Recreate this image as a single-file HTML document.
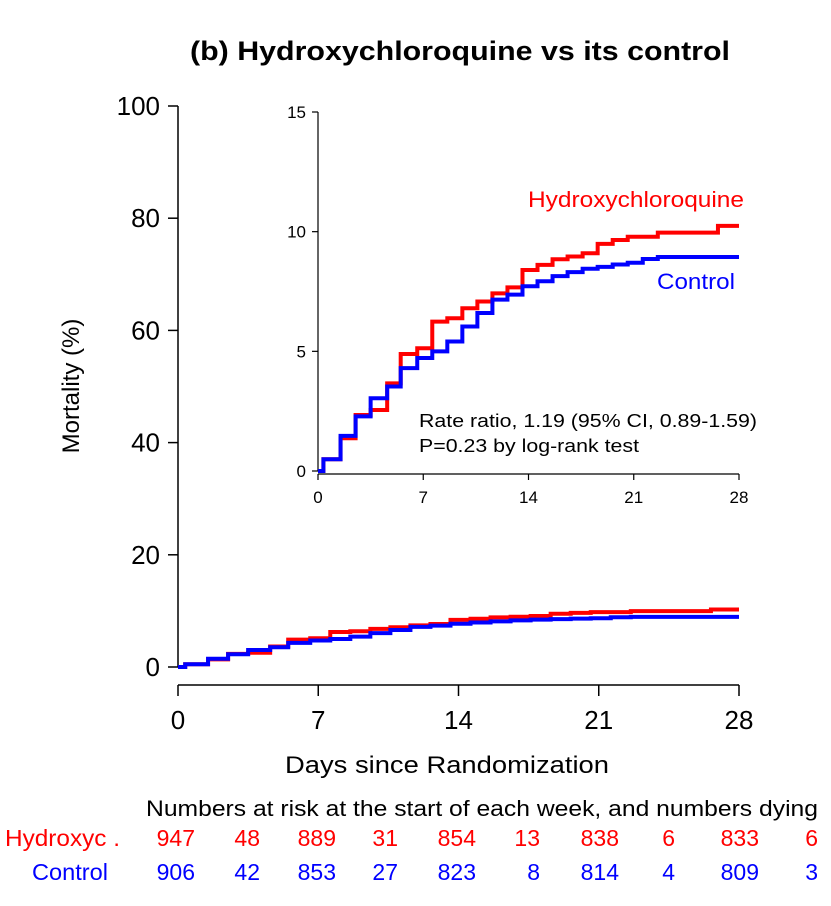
<!DOCTYPE html>
<html><head><meta charset="utf-8"><style>
body{margin:0;background:#fff}
svg{display:block;font-family:"Liberation Sans",Arial,sans-serif}
</style></head><body>
<svg id="chart" width="831" height="906" viewBox="0 0 831 906" xmlns="http://www.w3.org/2000/svg">
<text x="460" y="60" text-anchor="middle" font-size="27" font-weight="bold" textLength="540" lengthAdjust="spacingAndGlyphs">(b) Hydroxychloroquine vs its control</text>
<g id="main"></g>
<g id="inset"></g>
<g id="table"></g>
</svg>
<script>
const hcqTimes = [0,0.36,1.5,2.5,3.5,4.6,5.5,6.6,7.6,8.6,9.6,10.6,11.6,12.6,13.6,14.6,15.6,16.6,17.6,18.6,19.6,20.6,22.6,26.6,28];
const hcqValues = [0,0.49,1.37,2.34,2.55,3.66,4.89,5.13,6.24,6.38,6.80,7.08,7.42,7.67,8.40,8.61,8.85,8.96,9.10,9.49,9.65,9.79,9.96,10.24,10.24];
const ctlTimes = [0,0.36,1.5,2.5,3.5,4.6,5.5,6.6,7.6,8.6,9.6,10.6,11.6,12.6,13.6,14.6,15.6,16.6,17.6,18.6,19.6,20.6,21.6,22.6,28];
const ctlValues = [0,0.49,1.47,2.28,3.04,3.53,4.30,4.72,5.00,5.41,6.04,6.60,7.16,7.37,7.72,7.93,8.14,8.31,8.45,8.53,8.63,8.70,8.86,8.94,8.94];
const xTicks = [0,7,14,21,28];
const mainYTicks = [0,20,40,60,80,100];
const insetYTicks = [0,5,10,15];
const hcqRisk = ["947","48","889","31","854","13","838","6","833","6"];
const ctlRisk = ["906","42","853","27","823","8","814","4","809","3"];

const NS="http://www.w3.org/2000/svg";
function mk(tag,attrs,parent){const e=document.createElementNS(NS,tag);for(const k in attrs)e.setAttribute(k,attrs[k]);parent.appendChild(e);return e;}
function stepPath(ts,vs,xf,yf){let d="M"+xf(ts[0])+","+yf(vs[0]);for(let i=1;i<ts.length;i++){d+=" H"+xf(ts[i])+" V"+yf(vs[i]);}return d;}

// main
const main=document.getElementById('main');
const mx=d=>178+d*(739-178)/28, my=v=>667-v*(667-106)/100;
let e=mk('line',{x1:178,y1:my(0),x2:178,y2:my(100),stroke:'#000','stroke-width':1.5},main);

mainYTicks.forEach(t=>{mk('line',{x1:168,x2:178,y1:my(t),y2:my(t),stroke:'#000','stroke-width':1.5},main);
 const tx=mk('text',{x:160,y:my(t)+9,'text-anchor':'end','font-size':26},main);tx.textContent=t;
 });
e=mk('line',{x1:mx(0),x2:mx(28),y1:685,y2:685,stroke:'#000','stroke-width':1.5},main);

xTicks.forEach(t=>{mk('line',{x1:mx(t),x2:mx(t),y1:685,y2:696,stroke:'#000','stroke-width':1.5},main);
 const tx=mk('text',{x:mx(t),y:729,'text-anchor':'middle','font-size':26},main);tx.textContent=t;
 });
e=mk('text',{x:447,y:773,'text-anchor':'middle','font-size':24,textLength:324,lengthAdjust:'spacingAndGlyphs'},main);e.textContent='Days since Randomization';

e=mk('text',{x:0,y:0,'text-anchor':'middle','font-size':24,transform:'translate(79,386) rotate(-90)'},main);e.textContent='Mortality (%)';

e=mk('path',{d:stepPath(hcqTimes,hcqValues,mx,my),fill:'none',stroke:'#f00','stroke-width':4},main);

e=mk('path',{d:stepPath(ctlTimes,ctlValues,mx,my),fill:'none',stroke:'#00f','stroke-width':4},main);


// inset
const ins=document.getElementById('inset');
const ix=d=>318+d*(739-318)/28, iy=v=>471-v*(471-112)/15;
e=mk('line',{x1:318,x2:318,y1:iy(0),y2:iy(15),stroke:'#000','stroke-width':1.2},ins);

insetYTicks.forEach(t=>{mk('line',{x1:312,x2:318,y1:iy(t),y2:iy(t),stroke:'#000','stroke-width':1.2},ins);
 const tx=mk('text',{x:306,y:iy(t)+6,'text-anchor':'end','font-size':17},ins);tx.textContent=t;
 });
e=mk('line',{x1:ix(0),x2:ix(28),y1:474,y2:474,stroke:'#000','stroke-width':1.2},ins);

xTicks.forEach(t=>{mk('line',{x1:ix(t),x2:ix(t),y1:474,y2:480,stroke:'#000','stroke-width':1.2},ins);
 const tx=mk('text',{x:ix(t),y:503,'text-anchor':'middle','font-size':17},ins);tx.textContent=t;
 });
e=mk('path',{d:stepPath(hcqTimes,hcqValues,ix,iy),fill:'none',stroke:'#f00','stroke-width':4},ins);

e=mk('path',{d:stepPath(ctlTimes,ctlValues,ix,iy),fill:'none',stroke:'#00f','stroke-width':4},ins);

e=mk('text',{x:528,y:207,'font-size':22,fill:'#f00',textLength:216,lengthAdjust:'spacingAndGlyphs'},ins);e.textContent='Hydroxychloroquine';

e=mk('text',{x:657,y:289,'font-size':22,fill:'#00f',textLength:78,lengthAdjust:'spacingAndGlyphs'},ins);e.textContent='Control';

e=mk('text',{x:419,y:427,'font-size':18,textLength:338,lengthAdjust:'spacingAndGlyphs'},ins);e.textContent='Rate ratio, 1.19 (95% CI, 0.89-1.59)';

e=mk('text',{x:419,y:452,'font-size':18,textLength:220,lengthAdjust:'spacingAndGlyphs'},ins);e.textContent='P=0.23 by log-rank test';


// table
const tb=document.getElementById('table');
const cols=[195,260,336,398,476,540,619,675,759,818];
e=mk('text',{x:818,y:816,'text-anchor':'end','font-size':22,textLength:672,lengthAdjust:'spacingAndGlyphs'},tb);
e.textContent='Numbers at risk at the start of each week, and numbers dying';

e=mk('text',{x:5,y:846,'font-size':23,fill:'#f00',textLength:115,lengthAdjust:'spacingAndGlyphs'},tb);e.textContent='Hydroxyc .';

e=mk('text',{x:32,y:880,'font-size':23,fill:'#00f',textLength:76,lengthAdjust:'spacingAndGlyphs'},tb);e.textContent='Control';

hcqRisk.forEach((v,i)=>{const t=mk('text',{x:cols[i],y:846,'text-anchor':'end','font-size':23,fill:'#f00'},tb);t.textContent=v;
 });
ctlRisk.forEach((v,i)=>{const t=mk('text',{x:cols[i],y:880,'text-anchor':'end','font-size':23,fill:'#00f'},tb);t.textContent=v;
 });
</script>
</body></html>
